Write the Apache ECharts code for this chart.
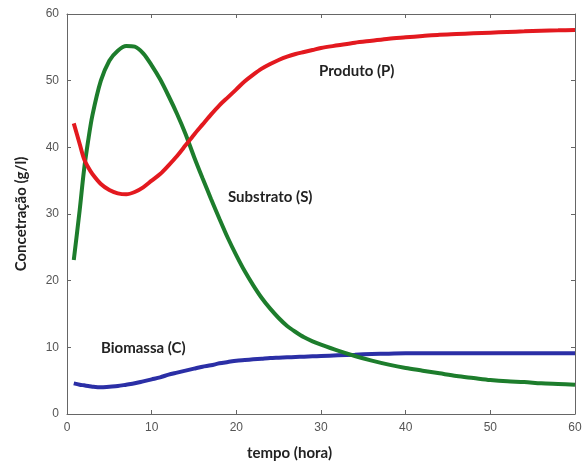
<!DOCTYPE html>
<html>
<head>
<meta charset="utf-8">
<script src="https://cdn.jsdelivr.net/npm/echarts@6/dist/echarts.min.js"></script>
<style>
  html, body { margin: 0; padding: 0; background: #fff; }
  #chart { width: 587px; height: 468px; }
</style>
</head>
<body>
<div id="chart"></div>
<script>
var tempo     = [0.8, 1.5, 2, 2.5, 3,
                 4, 5, 6, 7, 8, 9, 10, 11, 12, 13, 14, 15, 16, 17, 18, 19, 20, 21, 22, 23, 24, 25, 26, 27, 28, 29, 30,
                 32, 34, 36, 38, 40, 42, 44, 46, 48, 50, 52, 54, 56, 58, 60];
var produto   = [43.6, 40.5, 38.3, 37.0, 36.0,
                 34.5, 33.6, 33.1, 32.95, 33.3, 34.0, 35.0, 36.0, 37.3, 38.7, 40.3, 41.9, 43.4, 44.9, 46.3, 47.5, 48.7, 49.9, 50.9, 51.8, 52.5, 53.1, 53.6, 54.0, 54.3, 54.6, 54.9,
                 55.3, 55.7, 56.0, 56.3, 56.5, 56.7, 56.9, 57.0, 57.1, 57.2, 57.3, 57.4, 57.5, 57.55, 57.6];
var substrato = [23.1, 30.6, 36.5, 41.0, 44.8,
                 50.0, 53.0, 54.5, 55.2, 55.1, 54.1, 52.3, 50.2, 47.7, 45.0, 42.0, 38.6, 35.4, 32.3, 29.3, 26.4, 23.8, 21.4, 19.3, 17.4, 15.8, 14.4, 13.2, 12.3, 11.5, 10.9, 10.4,
                 9.5, 8.7, 8.0, 7.4, 6.9, 6.5, 6.1, 5.7, 5.4, 5.1, 4.9, 4.8, 4.6, 4.5, 4.4];
var biomassa  = [4.6, 4.4, 4.3, 4.2, 4.1,
                 4.0, 4.1, 4.2, 4.4, 4.6, 4.9, 5.2, 5.5, 5.9, 6.2, 6.5, 6.8, 7.1, 7.3, 7.6, 7.8, 8.0, 8.1, 8.2, 8.3, 8.4, 8.45, 8.5, 8.55, 8.6, 8.65, 8.7,
                 8.8, 8.9, 9.0, 9.05, 9.1, 9.1, 9.1, 9.1, 9.1, 9.1, 9.1, 9.1, 9.1, 9.1, 9.1];
var xTicks = [0, 10, 20, 30, 40, 50, 60];
var yTicks = [0, 10, 20, 30, 40, 50, 60];

function pares(vals) {
    return tempo.map(function(t, i) { return [t, vals[i]]; });
}

var tickFont = { color: "#555", fontFamily: "Liberation Sans", fontSize: 12 };
var textFont = { fontFamily: "Lato", fontWeight: "bold", fontSize: 15, fill: "#222" };

function eixoX(pos, show) {
    return {
        type: "value", position: pos, min: xTicks[0], max: xTicks[xTicks.length - 1], interval: 10,
        axisLine: { onZero: false, lineStyle: { color: "#666", width: 1 } },
        axisTick: { inside: true, length: 4, lineStyle: { color: "#666" } },
        axisLabel: Object.assign({ show: show, margin: 8 }, tickFont),
        splitLine: { show: false }
    };
}
function eixoY(pos, show) {
    return {
        type: "value", position: pos, min: yTicks[0], max: yTicks[yTicks.length - 1], interval: 10,
        axisLine: { onZero: false, lineStyle: { color: "#666", width: 1 } },
        axisTick: { inside: true, length: 4, lineStyle: { color: "#666" } },
        axisLabel: Object.assign({ show: show, margin: 8 }, tickFont),
        splitLine: { show: false }
    };
}

var ya = eixoY("left", true);
ya.name = "Concetração (g/l)";
ya.nameLocation = "middle";
ya.nameGap = 38;
ya.nameTextStyle = { fontFamily: "Lato", fontWeight: "bold", fontSize: 15, color: "#222" };

function serie(vals, cor) {
    return {
        type: "line", data: pares(vals), smooth: 0.3, symbol: "none",
        xAxisIndex: 0, yAxisIndex: 0,
        lineStyle: { color: cor, width: 4 }
    };
}

var option = {
    animation: false,
    backgroundColor: "#fff",
    grid: { left: 67, top: 14, right: 12, bottom: 54 },
    xAxis: [eixoX("bottom", true), eixoX("top", false)],
    yAxis: [ya, eixoY("right", false)],
    series: [
        serie(biomassa, "#2b2fa6"),
        serie(substrato, "#1d7d2c"),
        serie(produto, "#e3191f")
    ],
    graphic: [
        { type: "text", left: 319, top: 64, style: Object.assign({ text: "Produto (P)" }, textFont) },
        { type: "text", left: 228, top: 190, style: Object.assign({ text: "Substrato (S)" }, textFont) },
        { type: "text", left: 101, top: 341, style: Object.assign({ text: "Biomassa (C)" }, textFont) },
        { type: "text", left: 247, top: 446, style: Object.assign({ text: "tempo (hora)" }, textFont) }
    ]
};

echarts.init(document.getElementById("chart")).setOption(option);
</script>
</body>
</html>
